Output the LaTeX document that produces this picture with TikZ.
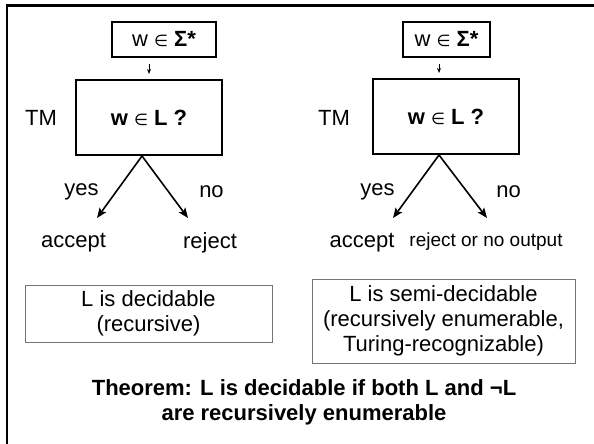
\documentclass[tikz,border=0pt]{standalone}
\usepackage{fontspec}
\setmainfont{Liberation Sans}
\newfontfamily\symfont{DejaVu Sans}
\usetikzlibrary{arrows.meta}

% element-of sign, a little smaller than the surrounding text
\newcommand{\elemof}{{\symfont\fontsize{16}{16}\selectfont ∈}}

\tikzset{
  every node/.style={font=\fontsize{22}{25}\selectfont, inner sep=0pt},
  inbox/.style={draw=black, line width=1.5pt},
  tmbox/.style={draw=black, line width=2pt},
  infobox/.style={draw=black!55, line width=1pt, align=center},
  feed/.style={line width=1pt, -{Stealth[length=5pt,width=4pt]}},
  branch/.style={line width=1.6pt, -{Stealth[length=10pt,width=8pt,inset=2pt]}},
  smalltext/.style={font=\fontsize{19}{22}\selectfont},
  thm/.style={font=\bfseries\fontsize{22}{25}\selectfont, align=center},
}

\begin{document}
\begin{tikzpicture}[x=1pt,y=-1pt]
  \useasboundingbox (0,0) rectangle (594,444);

  % slide frame (only its left and top edges are in view)
  \draw[line width=2.5pt] (7,460) -- (7,5.5) -- (610,5.5);

  % ---------- decidable machine ----------
  \node[inbox, minimum width=104pt, minimum height=35pt] (inL) at (164,39.5)
       {w \elemof\ \textbf{Σ*}};
  \node[tmbox, minimum width=146pt, minimum height=75pt] (tmL) at (149,117.5)
       {\textbf{w} \elemof\ \textbf{L ?}};
  \node (tmlabL) at (41,118) {TM};
  \coordinate (apL) at ([xshift=-7pt]tmL.south);
  \draw[feed, shorten <=6pt, shorten >=5pt] (inL.south -| tmL.north) -- (tmL.north);

  \coordinate (yesTipL) at (97,218);
  \coordinate (noTipL) at (188,218);
  \draw[branch] (apL) -- (yesTipL);
  \draw[branch] (apL) -- (noTipL);
  \node (yesL) at (81.5,192) {yes};
  \node (noL) at (211.5,192) {no};
  \node (accL) at (73.5,243) {accept};
  \node (rejL) at (210,243) {reject};

  \node[infobox, minimum width=247pt, minimum height=57pt] (decL) at (148.5,313.5)
       {L is decidable\\(recursive)};

  % ---------- semi-decidable machine ----------
  \node[inbox, minimum width=87pt, minimum height=35pt] (inR) at (446.5,39.5)
       {w \elemof\ \textbf{Σ*}};
  \node[tmbox, minimum width=146pt, minimum height=75pt] (tmR) at (446,116.5)
       {\textbf{w} \elemof\ \textbf{L ?}};
  \node (tmlabR) at (334,118) {TM};
  \coordinate (apR) at ([xshift=-7pt]tmR.south);
  \draw[feed, shorten <=6pt, shorten >=5pt] (inR.south -| apR) -- (tmR.north -| apR);

  \coordinate (yesTipR) at (393,218);
  \coordinate (noTipR) at (487,218);
  \draw[branch] (apR) -- (yesTipR);
  \draw[branch] (apR) -- (noTipR);
  \node (yesR) at (377.5,192) {yes};
  \node (noR) at (508.5,192) {no};
  \node (accR) at (362,243) {accept};
  \node[smalltext] (rejR) at (486,242) {reject or no output};

  \node[infobox, minimum width=263pt, minimum height=84pt] (semiR) at (443.5,321)
       {L is semi-decidable\\(recursively enumerable,\\Turing-recognizable)};

  % ---------- theorem ----------
  \node[thm] (thm) at (304,402.5)
       {Theorem: L is decidable if both L and ¬L\\are recursively enumerable};
\end{tikzpicture}
\end{document}
